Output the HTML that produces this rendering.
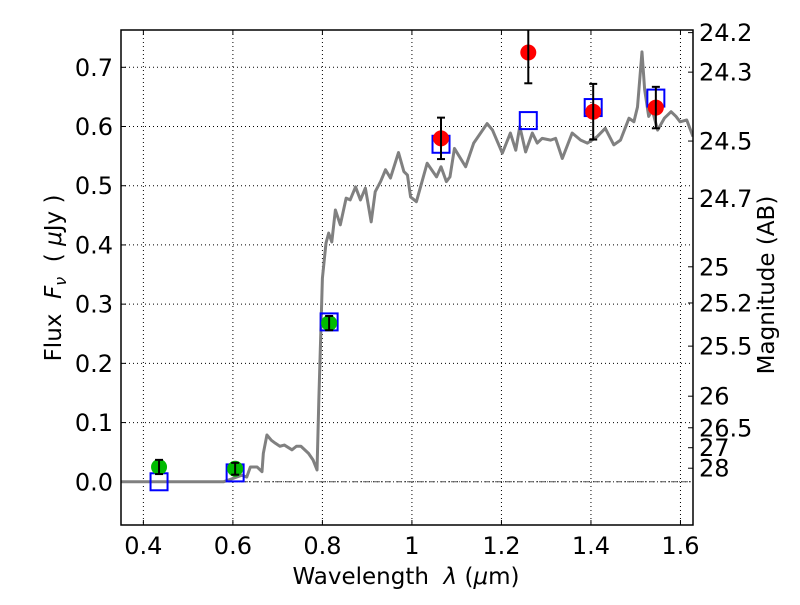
<!DOCTYPE html>
<html><head><meta charset="utf-8"><style>
body{margin:0;background:#fff}
svg{font-family:"DejaVu Sans","Liberation Sans",sans-serif}
</style></head><body>
<svg id="chart" width="800" height="600" xmlns="http://www.w3.org/2000/svg"></svg>
<script>
const specWave=[0.35,0.579,0.62,0.631,0.639,0.654,0.665,0.668,0.676,0.686,0.695,0.705,0.715,0.732,0.742,0.752,0.769,0.779,0.788,0.792,0.800,0.808,0.814,0.821,0.829,0.840,0.853,0.862,0.874,0.885,0.896,0.909,0.918,0.930,0.941,0.952,0.970,0.982,0.990,0.997,1.010,1.034,1.055,1.065,1.077,1.085,1.095,1.120,1.138,1.168,1.180,1.202,1.220,1.232,1.241,1.254,1.269,1.280,1.291,1.310,1.321,1.336,1.358,1.377,1.392,1.414,1.432,1.451,1.466,1.485,1.496,1.504,1.514,1.520,1.529,1.537,1.549,1.564,1.579,1.590,1.599,1.614,1.628];
const specFlux=[0,0,0.011,0.008,0.025,0.025,0.017,0.048,0.079,0.07,0.065,0.06,0.062,0.054,0.06,0.06,0.048,0.037,0.02,0.138,0.344,0.403,0.42,0.405,0.459,0.434,0.479,0.476,0.498,0.476,0.496,0.439,0.49,0.507,0.527,0.513,0.556,0.524,0.518,0.481,0.473,0.538,0.515,0.532,0.507,0.515,0.563,0.532,0.572,0.605,0.594,0.555,0.589,0.56,0.6,0.557,0.589,0.572,0.58,0.577,0.58,0.546,0.589,0.577,0.572,0.583,0.597,0.569,0.577,0.614,0.608,0.633,0.726,0.662,0.617,0.628,0.594,0.614,0.625,0.617,0.608,0.611,0.583];
const greenWave=[0.435,0.605,0.815];
const greenFlux=[0.025,0.022,0.268];
const greenErr=[0.012,0.01,0.012];
const redWave=[1.065,1.26,1.405,1.545];
const redFlux=[0.58,0.725,0.625,0.632];
const redErr=[0.035,0.052,0.047,0.035];
const modelWave=[0.435,0.605,0.815,1.065,1.26,1.405,1.545];
const modelFlux=[0.0,0.015,0.27,0.57,0.61,0.632,0.648];
const xTicks=[0.4,0.6,0.8,1.0,1.2,1.4,1.6];
const xTickLabels=["0.4","0.6","0.8","1","1.2","1.4","1.6"];
const yTicks=[0,0.1,0.2,0.3,0.4,0.5,0.6,0.7];
const yTickLabels=["0.0","0.1","0.2","0.3","0.4","0.5","0.6","0.7"];
const magTicks=[24.2,24.3,24.5,24.7,25,25.2,25.5,26,26.5,27,28];
const magTickLabels=["24.2","24.3","24.5","24.7","25","25.2","25.5","26","26.5","27","28"];

const L=121,R=693,T=30,B=525,X0=0.35,X1=1.628,Y0=-0.073,Y1=0.763;
const sx=v=>L+(v-X0)/(X1-X0)*(R-L);
const sy=v=>B-(v-Y0)/(Y1-Y0)*(B-T);
const svg=document.getElementById('chart');
const NS='http://www.w3.org/2000/svg';
function mk(tag,attrs,parent){const e=document.createElementNS(NS,tag);for(const k in attrs)e.setAttribute(k,attrs[k]);(parent||svg).appendChild(e);return e;}

const clip=mk('clipPath',{id:'pc'});mk('rect',{x:L,y:T,width:R-L,height:B-T},clip);
xTicks.forEach((t,i)=>{
  const g=mk('line',{x1:sx(t),x2:sx(t),y1:T,y2:B,stroke:'#000','stroke-width':1,'stroke-dasharray':'1,3'});
  
  
  mk('line',{x1:sx(t),x2:sx(t),y1:B,y2:B-5,stroke:'#000'});
  mk('line',{x1:sx(t),x2:sx(t),y1:T,y2:T+5,stroke:'#000'});
  const tx=mk('text',{x:sx(t),y:B+29,'font-size':24,'text-anchor':'middle'});tx.textContent=xTickLabels[i];
  
  
});
yTicks.forEach((t,i)=>{
  const g=mk('line',{x1:L,x2:R,y1:sy(t),y2:sy(t),stroke:'#000','stroke-width':1,'stroke-dasharray':'1,3'});
  
  
  mk('line',{x1:L,x2:L+5,y1:sy(t),y2:sy(t),stroke:'#000'});
  const tx=mk('text',{x:L-8,y:sy(t)+8.5,'font-size':24,'text-anchor':'end'});tx.textContent=yTickLabels[i];
  
  
});
magTicks.forEach((m,i)=>{
  const f=Math.pow(10,(23.9-m)/2.5);const y=sy(f);
  mk('line',{x1:R-5,x2:R,y1:y,y2:y,stroke:'#000'});
  const tx=mk('text',{x:R+6,y:y+8.5,'font-size':24});tx.textContent=magTickLabels[i];
  
  
});
const z=mk('line',{x1:L,x2:R,y1:sy(0),y2:sy(0),stroke:'#555','stroke-width':1,'stroke-dasharray':'6,2,1,2'});


const gp=mk('g',{'clip-path':'url(#pc)'});
const sp=mk('polyline',{points:specWave.map((w,i)=>sx(w)+','+sy(specFlux[i])).join(' '),fill:'none',stroke:'#808080','stroke-width':3,'stroke-linejoin':'round'},gp);


modelWave.forEach((w,i)=>{
  const r=mk('rect',{x:sx(w)-8.5,y:sy(modelFlux[i])-8.5,width:17,height:17,fill:'none',stroke:'#0000ff','stroke-width':2},gp);
  
  
});
function pts(ws,fs,es,col,name){
  ws.forEach((w,i)=>{
    const c=mk('circle',{cx:sx(w),cy:sy(fs[i]),r:8,fill:col},gp);
    
    
    const x=sx(w),y1=sy(fs[i]+es[i]),y2=sy(fs[i]-es[i]);
    mk('line',{x1:x,x2:x,y1:y1,y2:y2,stroke:'#000','stroke-width':2},gp);
    mk('line',{x1:x-4,x2:x+4,y1:y1,y2:y1,stroke:'#000','stroke-width':2},gp);
    mk('line',{x1:x-4,x2:x+4,y1:y2,y2:y2,stroke:'#000','stroke-width':2},gp);
  });
}
pts(greenWave,greenFlux,greenErr,'#00bb00','optical-detection-point');
pts(redWave,redFlux,redErr,'#ff0000','nir-detection-point');
const fr=mk('rect',{x:L,y:T,width:R-L,height:B-T,fill:'none',stroke:'#000','stroke-width':1.5});


</script>
<svg width="800" height="600" style="position:absolute;left:0;top:0;pointer-events:none;white-space:pre" xmlns="http://www.w3.org/2000/svg">
<text x="406" y="584" font-size="23" text-anchor="middle" font-family="DejaVu Sans, sans-serif" style="white-space:pre">Wavelength  <tspan font-style="italic">λ</tspan> (<tspan font-style="italic">μ</tspan>m)</text>
<text transform="translate(61,278) rotate(-90)" font-size="23" text-anchor="middle" font-family="DejaVu Sans, sans-serif" style="white-space:pre">Flux  <tspan font-style="italic">F</tspan><tspan font-style="italic" font-size="16" dy="5">ν</tspan><tspan dy="-5">  ( </tspan><tspan font-style="italic">μ</tspan>Jy )</text>
<text transform="translate(774,285) rotate(-90)" font-size="23" text-anchor="middle" font-family="DejaVu Sans, sans-serif">Magnitude (AB)</text>
</svg>
</body></html>
